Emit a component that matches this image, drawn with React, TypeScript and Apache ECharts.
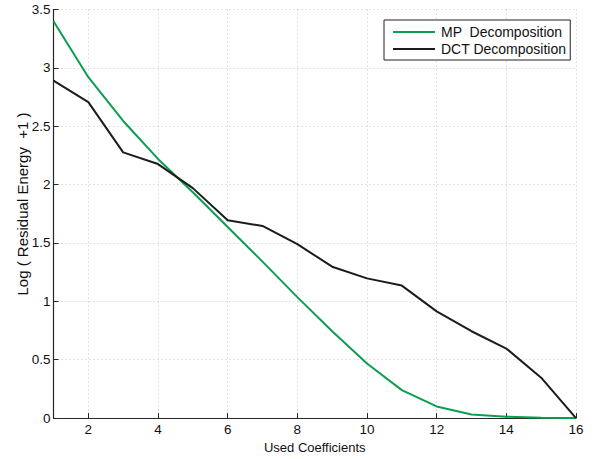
import React, { useEffect, useRef } from "react";
import * as echarts from "echarts";

const coefficients = [1, 2, 3, 4, 5, 6, 7, 8, 9, 10, 11, 12, 13, 14, 15, 16];
const mpValues = [3.40, 2.92, 2.545, 2.22, 1.935, 1.637, 1.34, 1.036, 0.744, 0.468, 0.24, 0.10, 0.03, 0.012, 0.003, 0.0];
const dctValues = [2.89, 2.706, 2.276, 2.176, 1.97, 1.694, 1.646, 1.49, 1.297, 1.197, 1.135, 0.914, 0.744, 0.596, 0.346, 0.0];
const xTickValues = [2, 4, 6, 8, 10, 12, 14, 16];
const seriesNames = ["MP  Decomposition", "DCT Decomposition"];
const xAxisTitle = "Used Coefficients";
const yAxisTitle = "Log ( Residual Energy  +1 )";

const FONT = "'Liberation Sans', Arial, Helvetica, sans-serif";

export default function App() {
  const ref = useRef<HTMLDivElement>(null);
  useEffect(() => {
    if (!ref.current) return;
    const chart = echarts.init(ref.current, undefined, { renderer: "svg" });
    const axisColor = "#262626";
    const gridLine = { show: true, lineStyle: { color: "#c4c4c4", type: [1, 3] as any, width: 1 } };
    chart.setOption({
      animation: false,
      backgroundColor: "#ffffff",
      grid: { left: 53.5, right: 19, top: 9.5, bottom: 38.3, containLabel: false },
      legend: {
        data: seriesNames.map((n) => ({ name: n, icon: "rect" })),
        orient: "vertical",
        left: 384,
        top: 20,
        padding: [5, 4, 4, 9],
        itemGap: 3,
        itemWidth: 42,
        itemHeight: 2,
        borderColor: "#222",
        borderWidth: 1,
        borderRadius: 0,
        backgroundColor: "#fff",
        textStyle: { fontFamily: FONT, fontSize: 14, color: "#111", padding: [0, 0, 0, 1], lineHeight: 14 },
      },
      graphic: [
        {
          type: "text",
          x: 22,
          y: 204,
          rotation: Math.PI / 2,
          style: {
            text: yAxisTitle,
            fontFamily: FONT,
            fontSize: 15,
            fill: "#111",
            align: "center",
            verticalAlign: "middle",
          },
        },
      ],
      xAxis: {
        type: "value",
        min: 1,
        max: 16,
        name: xAxisTitle,
        nameLocation: "middle",
        nameGap: 18,
        nameTextStyle: { fontFamily: FONT, fontSize: 13, color: "#111", verticalAlign: "top" },
        axisLine: { lineStyle: { color: axisColor, width: 1.2 } },
        axisTick: { inside: true, length: 5, customValues: xTickValues, lineStyle: { color: axisColor } },
        axisLabel: { customValues: xTickValues, fontFamily: FONT, fontSize: 13.5, color: "#111", margin: 4 },
        splitLine: gridLine,
      },
      yAxis: {
        type: "value",
        min: 0,
        max: 3.5,
        interval: 0.5,
        axisLine: { show: true, lineStyle: { color: axisColor, width: 1.2 } },
        axisTick: { show: true, inside: true, length: 5, lineStyle: { color: axisColor } },
        axisLabel: { fontFamily: FONT, fontSize: 13.5, color: "#111", margin: 3 },
        splitLine: gridLine,
      },
      series: [
        {
          name: seriesNames[0],
          type: "line",
          data: coefficients.map((c, i) => [c, mpValues[i]]),
          symbol: "none",
          lineStyle: { color: "#0c9e50", width: 2 },
          itemStyle: { color: "#0c9e50" },
        },
        {
          name: seriesNames[1],
          type: "line",
          data: coefficients.map((c, i) => [c, dctValues[i]]),
          symbol: "none",
          lineStyle: { color: "#1c1c1c", width: 2 },
          itemStyle: { color: "#1c1c1c" },
        },
      ],
    });
    return () => chart.dispose();
  }, []);
  return <div ref={ref} style={{ width: 595, height: 459, position: "absolute", left: 0, top: 0 }} />;
}
